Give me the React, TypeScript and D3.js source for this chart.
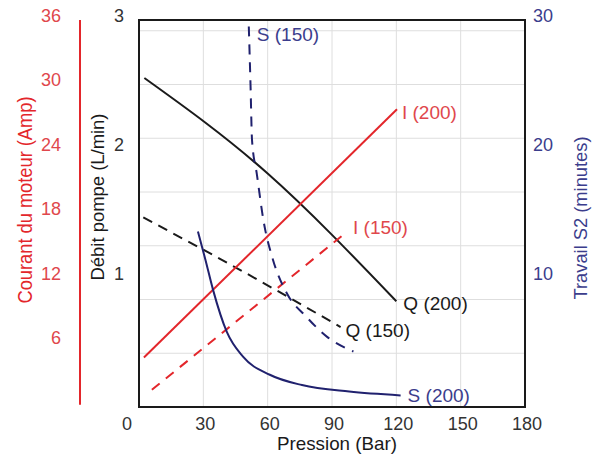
import React from 'react';
import * as d3 from 'd3';

// Pression (Bar) vs débit / courant / travail S2
const xTicks = [0, 30, 60, 90, 120, 150, 180];
const flowTicks = [1, 2, 3];
const ampTicks = [6, 12, 18, 24, 30, 36];
const minTicks = [10, 20, 30];

type Pt = [number, number];

// Débit pompe (L/min)
const q200: Pt[] = [[2.5, 2.55], [60, 1.81], [120, 0.82]];
const q150: Pt[] = [[2, 1.47], [48.5, 1.05], [94, 0.62]];
// Courant du moteur (Amp)
const i200: Pt[] = [[2.3, 4.6], [120.3, 27.7]];
const i150: Pt[] = [[6, 1.6], [97, 16.3]];
// Travail S2 (minutes)
const s200: Pt[] = [[27.5, 13.6], [31, 11.4], [34.5, 9.1], [41, 5.8], [48.5, 3.9], [61, 2.5], [76, 1.7], [98, 1.2], [122, 0.9]];
const s150: Pt[] = [[51.2, 29.5], [52, 25], [52.7, 20.7], [55, 18], [58, 14.5], [62.5, 11.4], [69, 8.8], [78, 7.0], [88, 5.4], [100, 4.3]];

const RED = '#e3262b';
const RED_TXT = '#e0474c';
const NAVY = '#20216e';
const NAVY_TXT = '#3b3d8c';
const BLACK = '#1a1a1a';
const FONT = 'Liberation Sans, Arial, sans-serif';

export default function App() {
  const left = 139, right = 525, top = 20, bottom = 407;

  const x = d3.scaleLinear().domain([0, 180]).range([left, right]);
  const yQ = d3.scaleLinear().domain([0, 3]).range([bottom, top]);
  const yI = d3.scaleLinear().domain([0, 36]).range([bottom, top]);
  const yS = d3.scaleLinear().domain([0, 30]).range([bottom, top]);

  const lineQ = d3.line<Pt>().x(d => x(d[0])).y(d => yQ(d[1])).curve(d3.curveNatural);
  const lineI = d3.line<Pt>().x(d => x(d[0])).y(d => yI(d[1]));
  const lineS = d3.line<Pt>().x(d => x(d[0])).y(d => yS(d[1])).curve(d3.curveMonotoneX);

  const gridY = yI.ticks(6).filter(v => v > 0 && v < 36);
  const gridX = xTicks.filter(v => v > 0 && v < 180);

  const endOf = (a: Pt[]) => a[a.length - 1];

  const labels = [
    { text: 'I (200)', px: x(endOf(i200)[0]) + 5, py: yI(endOf(i200)[1]) + 3, color: RED_TXT },
    { text: 'I (150)', px: x(endOf(i150)[0]) + 6, py: yI(endOf(i150)[1]) - 4, color: RED_TXT },
    { text: 'Q (200)', px: x(endOf(q200)[0]) + 7, py: yQ(endOf(q200)[1]) + 2, color: BLACK },
    { text: 'Q (150)', px: x(endOf(q150)[0]) + 5, py: yQ(endOf(q150)[1]) + 3, color: BLACK },
    { text: 'S (200)', px: x(endOf(s200)[0]) + 7, py: yS(endOf(s200)[1]), color: NAVY_TXT },
    { text: 'S (150)', px: x(s150[0][0]) + 8, py: yS(s150[0][1]) + 8, color: NAVY_TXT },
  ];

  return (
    <svg width={611} height={459} style={{ position: 'absolute', left: 0, top: 0, background: '#fff' }}
      fontFamily={FONT}>
      {/* grid */}
      <g stroke="#dedede" strokeWidth={1}>
        {gridY.map(v => <line key={'gy' + v} x1={left} x2={right} y1={yI(v)} y2={yI(v)} />)}
        {gridX.map(v => <line key={'gx' + v} x1={x(v)} x2={x(v)} y1={top} y2={bottom} />)}
      </g>

      {/* series */}
      <g fill="none" strokeWidth={2}>
        <path d={lineQ(q200) || ''} stroke={BLACK} />
        <path d={lineQ(q150) || ''} stroke={BLACK} strokeDasharray="10,7" />
        <path d={lineI(i200) || ''} stroke={RED} />
        <path d={lineI(i150) || ''} stroke={RED} strokeDasharray="10,8" />
        <path d={lineS(s200) || ''} stroke={NAVY} />
        <path d={lineS(s150) || ''} stroke={NAVY} strokeDasharray="10,8" />
      </g>

      {/* frame */}
      <rect x={left} y={top} width={right - left} height={bottom - top} fill="none" stroke={BLACK} strokeWidth={2} />

      {/* series labels */}
      {labels.map(l => (
        <text key={l.text} x={l.px} y={l.py} dy="0.35em" fontSize={19} fill={l.color}>{l.text}</text>
      ))}

      {/* x axis */}
      {xTicks.map(v => (
        <text key={'xt' + v} x={v === 0 ? x(v) - 12 : x(v) + 2} y={430} fontSize={18} fill="#333" textAnchor="middle">{v}</text>
      ))}
      <text x={337} y={450} fontSize={19} fill={BLACK} textAnchor="middle" textLength={120} lengthAdjust="spacingAndGlyphs">Pression (Bar)</text>

      {/* left flow axis */}
      {flowTicks.map(v => (
        <text key={'qt' + v} x={124} y={yQ(v)} dy="0.1em" fontSize={18} fill="#333" textAnchor="end">{v}</text>
      ))}
      <text transform="translate(104,197) rotate(-90)" fontSize={19} fill={BLACK} textAnchor="middle"
        textLength={167} lengthAdjust="spacingAndGlyphs">Débit pompe (L/min)</text>

      {/* red current axis */}
      <line x1={80} x2={80} y1={yI(36)} y2={yI(0.2)} stroke={RED} strokeWidth={2} />
      {ampTicks.map(v => (
        <text key={'it' + v} x={61} y={yI(v)} dy="0.1em" fontSize={18} fill={RED_TXT} textAnchor="end">{v}</text>
      ))}
      <text transform="translate(32,200) rotate(-90)" fontSize={20} fill={RED} textAnchor="middle"
        textLength={207} lengthAdjust="spacingAndGlyphs">Courant du moteur (Amp)</text>

      {/* right S2 axis */}
      {minTicks.map(v => (
        <text key={'st' + v} x={533} y={yS(v)} dy="0.1em" fontSize={18} fill={NAVY_TXT}>{v}</text>
      ))}
      <text transform="translate(587,218) rotate(-90)" fontSize={19} fill={NAVY_TXT} textAnchor="middle"
        textLength={163} lengthAdjust="spacingAndGlyphs">Travail S2 (minutes)</text>
    </svg>
  );
}
